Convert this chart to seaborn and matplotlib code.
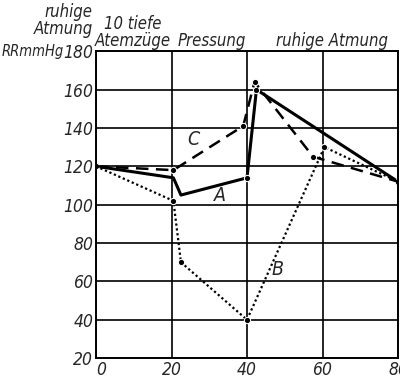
import matplotlib.pyplot as plt
import seaborn as sns
import pandas as pd

# Kurven aus dem Diagramm (Zeit, Blutdruck RR mm Hg)
a_x = [0, 20.5, 22.5, 40, 42.5, 80]
a_y = [120, 114, 105, 114, 160, 112]
b_x = [0, 20.5, 22.5, 40, 60.5, 80]
b_y = [120, 102, 70, 40, 130, 112]
c_x = [0, 20.5, 39, 42, 57.5, 80]
c_y = [120, 118, 141, 164, 125, 112]

x_ticks = [0, 20, 40, 60, 80]
y_ticks = [20, 40, 60, 80, 100, 120, 140, 160, 180]
phasen = ["10 tiefe\nAtemzüge", "Pressung", "ruhige Atmung"]
phasen_x = [9.8, 30.7, 62.5]

df = pd.concat([
    pd.DataFrame({"t": a_x, "RR": a_y, "Kurve": "A"}),
    pd.DataFrame({"t": b_x, "RR": b_y, "Kurve": "B"}),
    pd.DataFrame({"t": c_x, "RR": c_y, "Kurve": "C"}),
])

sns.set_theme(style="white")
plt.rcParams['font.family'] = ['DejaVu Sans']
plt.rcParams['font.style'] = 'italic'
plt.rcParams['font.stretch'] = 'condensed'

fig = plt.figure(figsize=(4.0, 3.79), dpi=100)
ax = fig.add_axes([0.24, 0.055, 0.755, 0.81])

stile = {"A": ("-", 2.2, [0, 3, 4, 5]),
         "B": ((0, (1, 1.2)), 1.6, [1, 2, 3, 4, 5]),
         "C": ((0, (5, 3)), 1.8, [1, 2, 3, 4])}
for name, (ls, lw, marks) in stile.items():
    sub = df[df["Kurve"] == name]
    sns.lineplot(data=sub, x="t", y="RR", ax=ax, color="black", lw=lw,
                 linestyle=ls, marker="o", markersize=4.5, markevery=marks,
                 sort=False, estimator=None)

ax.set_xlim(0, 80)
ax.set_ylim(20, 180)
ax.set_xticks(x_ticks)
ax.set_yticks(y_ticks)
ax.set_xticklabels([str(v) for v in x_ticks], fontsize=12.5)
ax.set_yticklabels([str(v) for v in y_ticks], fontsize=12.5)
ax.get_xticklabels()[0].set_ha("left")
ax.tick_params(length=0, pad=2)
ax.set_xlabel("")
ax.set_ylabel("")
ax.grid(True, color="black", lw=1.2)
for s in ax.spines.values():
    s.set_color("black")
    s.set_linewidth(1.4)

# Einheit vor der 180
ax.text(-8.6, 180, "RRmmHg", fontsize=10.5, ha="right", va="center")

# Kurvenbeschriftung
ax.text(32.8, 105, "A", fontsize=14, ha="center", va="center")
ax.text(48, 66, "B", fontsize=14, ha="center", va="center")
ax.text(25.7, 134, "C", fontsize=14, ha="center", va="center")

# Phasen oben
for px, txt in zip(phasen_x, phasen):
    ax.text(px, 180.8, txt, fontsize=12, ha="center", va="bottom",
            linespacing=0.9)
ax.text(-0.9, 187, "ruhige\nAtmung", fontsize=12, ha="right", va="bottom",
        linespacing=0.9)

plt.savefig("out.png", dpi=100)
